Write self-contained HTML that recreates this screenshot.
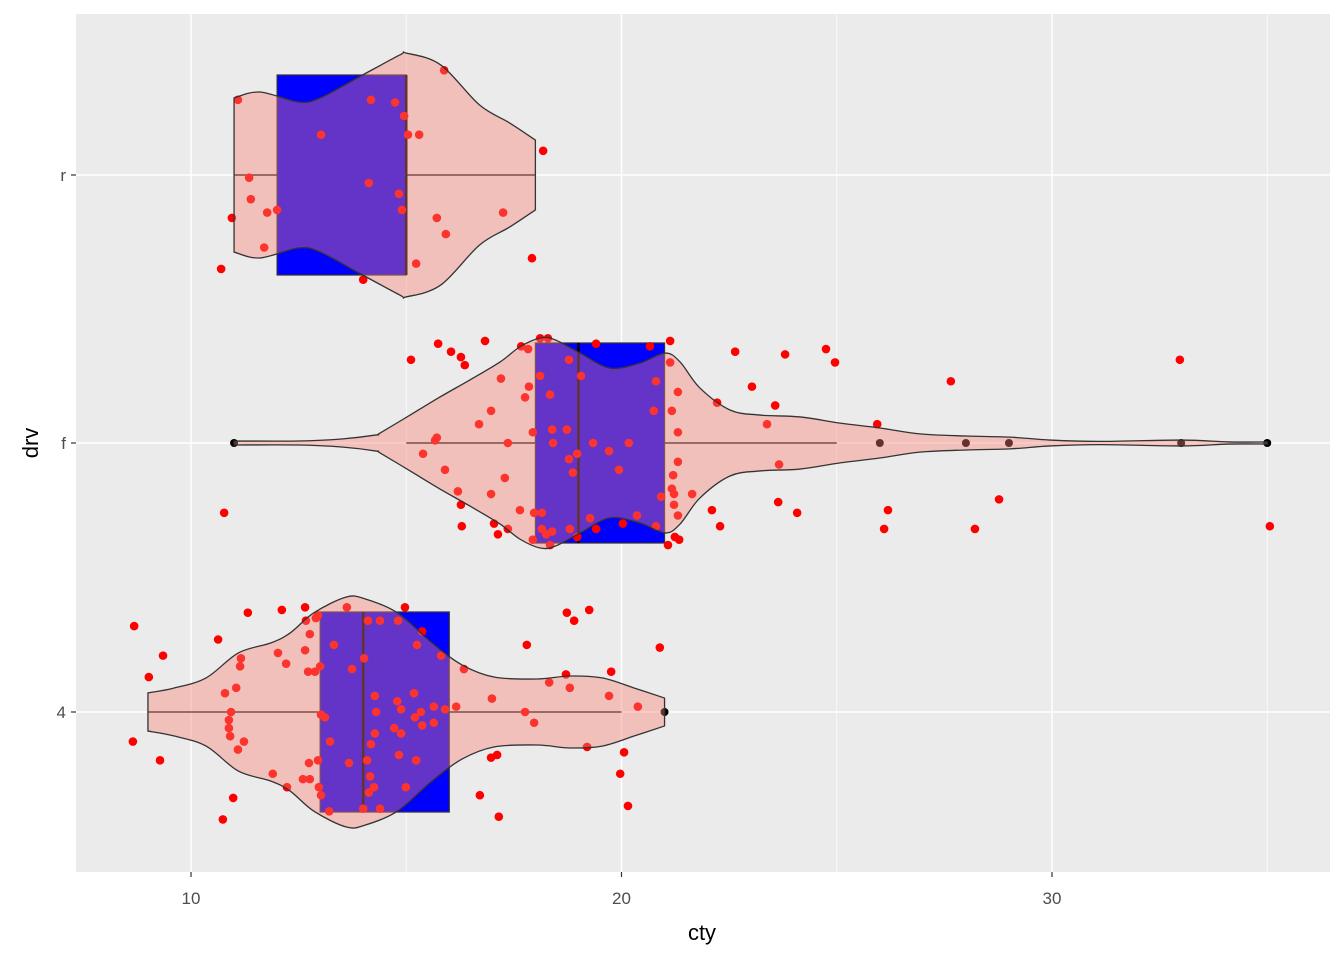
<!DOCTYPE html>
<html><head><meta charset="utf-8"><style>
body{margin:0;background:#fff;}
svg text{font-family:"Liberation Sans",sans-serif;}
</style></head><body>
<svg id="chart" width="1344" height="960" xmlns="http://www.w3.org/2000/svg">
<rect x="76" y="14" width="1254" height="858" fill="#EBEBEB"/>
<g id="grid"></g>
<g id="boxes"></g>
<g id="points"></g>
<g id="violins"></g>
<g id="axes"></g>
<text x="702" y="940" font-size="22" text-anchor="middle" fill="#000">cty</text>
<text transform="translate(38,443) rotate(-90)" font-size="22" text-anchor="middle" fill="#000">drv</text>
</svg>
<script>
const categories = ["4","f","r"];
const xTicks = [10,20,30];
const xMinor = [15,25,35];
// boxplot stats [4, f, r]
const q1 = [13,18,12];
const med = [14,19,15];
const q3 = [16,21,15];
const whiskLo = [9,15,11];
const whiskHi = [20,25,18];
const outliers4 = [21];
const outliersF = [11,26,28,29,33,35];
const outliersR = [];
// violin densities (half widths in drv units)
const vR_cty = [11,11.6,12.5,13,13.9,14.85,15,15.8,16.7,17.4,18];
const vR_w = [.287,.309,.272,.287,.365,.447,.454,.410,.261,.194,.130];
const vF_cty = [11,12.5,13.5,14.3,14.39,15.09,15.78,16.48,17.18,17.64,18.11,18.46,19.04,19.73,20.43,21.01,21.36,21.82,22.52,23.22,24.15,25.08,26,26.93,28,29.02,29.95,31.1,33,34.1,35];
const vF_w = [.0075,.0075,.015,.03,.037,.104,.171,.235,.302,.358,.391,.384,.335,.279,.298,.335,.302,.205,.123,.104,.097,.074,.056,.034,.026,.022,.011,.006,.011,.004,.004];
const v4_cty = [9,9.6,10.35,11.1,11.85,12.3,12.85,13.6,14.05,14.8,15.6,16.3,17.05,18.05,18.8,19.55,20.3,21];
const v4_w = [.071,.089,.127,.220,.257,.294,.369,.428,.421,.369,.257,.175,.130,.123,.134,.127,.089,.052];
// jittered points
const pR_cty = [15.88,18.18,11.09,14.18,14.74,14.95,13.02,15.04,15.30,11.35,14.13,14.83,11.39,14.90,12.00,11.77,10.95,15.71,17.25,15.92,11.70,10.70,15.23,17.92,14.00];
const pR_j = [.39,.09,.28,.28,.27,.22,.15,.15,.15,-.01,-.03,-.07,-.09,-.13,-.13,-.14,-.16,-.16,-.14,-.22,-.27,-.35,-.33,-.31,-.39];
const pF_cty = [15.11,15.74,16.04,16.27,16.36,16.83,17.67,17.83,18.11,18.29,19.41,20.66,21.13,22.64,23.03,18.78,18.11,19.06,17.20,17.85,17.76,18.34,21.13,20.80,21.31,22.22,16.97,16.69,20.75,21.17,17.94,18.39,18.73,21.31,15.71,15.67,17.36,18.41,19.34,20.17,19.71,18.97,15.39,18.78,21.31,15.90,18.87,19.94,21.20,17.29,21.17,21.64,16.20,16.97,21.22,20.92,16.27,21.22,22.10,17.64,17.97,18.15,21.31,20.36,19.27,22.29,16.29,17.04,17.36,20.03,20.80,18.15,18.39,18.80,19.41,17.13,18.25,21.24,21.34,18.97,17.94,21.08,18.34,23.80,24.75,24.96,23.57,23.38,23.66,23.64,24.08,25.94,26.19,26.10,27.65,28.21,28.77,32.97,35.06,10.77];
const pF_j = [.31,.37,.34,.32,.29,.38,.36,.35,.39,.39,.37,.36,.38,.34,.21,.31,.25,.25,.24,.21,.17,.18,.30,.23,.19,.15,.12,.07,.12,.12,.04,.05,.05,.04,.02,.01,0,0,0,0,-.03,-.04,-.04,-.06,-.07,-.10,-.11,-.10,-.12,-.13,-.17,-.19,-.18,-.19,-.19,-.20,-.23,-.23,-.25,-.25,-.26,-.26,-.27,-.27,-.28,-.31,-.31,-.30,-.32,-.30,-.31,-.32,-.33,-.32,-.32,-.34,-.34,-.35,-.36,-.35,-.36,-.38,-.38,.33,.35,.30,.14,.07,-.08,-.22,-.26,.07,-.25,-.32,.23,-.32,-.21,.31,-.31,-.26];
const p4_cty = [8.68,11.32,12.11,12.65,13.62,14.97,10.63,9.35,9.02,12.67,12.90,12.95,14.11,14.39,14.81,15.37,18.73,19.25,18.90,17.80,20.89,12.76,13.32,15.25,12.02,12.21,12.65,11.16,11.14,14.02,15.81,16.34,13.74,12.72,12.88,13.00,18.71,19.76,18.32,18.80,10.79,11.05,14.27,14.79,15.18,16.99,19.71,20.38,10.93,13.02,13.11,14.30,14.88,15.34,15.20,15.64,15.90,16.16,17.76,17.97,10.88,10.88,10.91,15.37,15.64,14.72,14.88,14.27,8.65,11.23,11.09,13.23,14.18,19.20,20.06,9.28,12.74,12.95,13.67,14.09,14.83,15.23,16.97,17.11,19.97,11.90,12.23,12.60,12.76,14.16,12.97,13.02,14.25,14.13,14.99,16.71,10.98,20.15,10.74,13.21,14.00,14.39,17.15];
const p4_j = [.32,.37,.38,.39,.39,.39,.27,.21,.13,.34,.35,.36,.34,.34,.34,.30,.37,.38,.34,.25,.24,.29,.25,.25,.22,.18,.23,.20,.17,.20,.21,.16,.16,.15,.15,.17,.14,.15,.11,.09,.07,.09,.06,.04,.07,.05,.06,.02,0,-.01,-.02,0,.01,0,-.02,.02,.01,.02,0,-.04,-.03,-.06,-.09,-.05,-.04,-.06,-.08,-.08,-.11,-.11,-.14,-.11,-.12,-.13,-.15,-.18,-.19,-.18,-.19,-.18,-.16,-.18,-.17,-.16,-.23,-.23,-.28,-.25,-.25,-.24,-.28,-.31,-.28,-.30,-.28,-.31,-.32,-.35,-.40,-.37,-.36,-.36,-.39];

const NS = "http://www.w3.org/2000/svg";
const X = v => 191 + (v - 10) * 43.05;
const Y = (cat, j) => [712, 443, 175][cat] - j * 268.5;
function mk(parent, tag, attrs) {
  const e = document.createElementNS(NS, tag);
  for (const k in attrs) e.setAttribute(k, attrs[k]);
  parent.appendChild(e);
  return e;
}
const grid = document.getElementById('grid');
xMinor.forEach(v => {
  const l = mk(grid, 'line', {x1: X(v), x2: X(v), y1: 14, y2: 872, stroke: '#fff', 'stroke-width': 0.7});
  
  
});
xTicks.forEach(v => {
  const l = mk(grid, 'line', {x1: X(v), x2: X(v), y1: 14, y2: 872, stroke: '#fff', 'stroke-width': 1.4});
  
  
});
categories.forEach((c, i) => {
  const l = mk(grid, 'line', {x1: 76, x2: 1330, y1: Y(i, 0), y2: Y(i, 0), stroke: '#fff', 'stroke-width': 1.4});
  
  
});
// boxplots
const boxes = document.getElementById('boxes');
const outs = [outliers4, outliersF, outliersR];
categories.forEach((c, i) => {
  const cy = Y(i, 0), h = 0.3725 * 268.5;
  const w1 = mk(boxes, 'line', {x1: X(whiskLo[i]), x2: X(q1[i]), y1: cy, y2: cy, stroke: '#000', 'stroke-width': 1.2});
  
  
  const w2 = mk(boxes, 'line', {x1: X(q3[i]), x2: X(whiskHi[i]), y1: cy, y2: cy, stroke: '#000', 'stroke-width': 1.2});
  
  
  const r = mk(boxes, 'rect', {x: X(q1[i]), y: cy - h, width: X(q3[i]) - X(q1[i]), height: 2 * h, fill: '#0000FF', stroke: '#333', 'stroke-width': 1.2});
  
  
  const m = mk(boxes, 'line', {x1: X(med[i]), x2: X(med[i]), y1: cy - h, y2: cy + h, stroke: '#000', 'stroke-width': 2.5});
  
  
  outs[i].forEach(v => {
    const o = mk(boxes, 'circle', {cx: X(v), cy: cy, r: 4, fill: '#000'});
    
    
  });
});
// points
const pts = document.getElementById('points');
[[p4_cty, p4_j], [pF_cty, pF_j], [pR_cty, pR_j]].forEach((p, i) => {
  p[0].forEach((v, k) => {
    const c = mk(pts, 'circle', {cx: X(v), cy: Y(i, p[1][k]), r: 4.3, fill: '#FF0000'});
    
    
  });
});
// violins
function smooth(ps) {
  let d = '';
  for (let i = 0; i < ps.length - 1; i++) {
    const p0 = ps[Math.max(0, i - 1)], p1 = ps[i], p2 = ps[i + 1], p3 = ps[Math.min(ps.length - 1, i + 2)];
    const c1 = [p1[0] + (p2[0] - p0[0]) / 6, p1[1] + (p2[1] - p0[1]) / 6];
    const c2 = [p2[0] - (p3[0] - p1[0]) / 6, p2[1] - (p3[1] - p1[1]) / 6];
    d += ` C${c1[0]},${c1[1]} ${c2[0]},${c2[1]} ${p2[0]},${p2[1]}`;
  }
  return d;
}
const vio = document.getElementById('violins');
[[v4_cty, v4_w], [vF_cty, vF_w], [vR_cty, vR_w]].forEach((v, i) => {
  const top = v[0].map((c, k) => [X(c), Y(i, v[1][k])]);
  const bot = v[0].map((c, k) => [X(c), Y(i, -v[1][k])]).reverse();
  const d = `M${top[0][0]},${top[0][1]}` + smooth(top) + ` L${bot[0][0]},${bot[0][1]}` + smooth(bot) + ' Z';
  const p = mk(vio, 'path', {d: d, fill: 'rgb(250,128,114)', 'fill-opacity': 0.4, stroke: '#333', 'stroke-width': 1.3});
  
  
});
// axes
const ax = document.getElementById('axes');
xTicks.forEach(v => {
  const t = mk(ax, 'line', {x1: X(v), x2: X(v), y1: 872, y2: 877, stroke: '#333', 'stroke-width': 1.2});
  
  
  const l = mk(ax, 'text', {x: X(v), y: 904, 'font-size': 17, 'text-anchor': 'middle', fill: '#4D4D4D'});
  l.textContent = v;
  
  
});
categories.forEach((c, i) => {
  const t = mk(ax, 'line', {x1: 71, x2: 76, y1: Y(i, 0), y2: Y(i, 0), stroke: '#333', 'stroke-width': 1.2});
  
  
  const l = mk(ax, 'text', {x: 66, y: Y(i, 0) + 6, 'font-size': 17, 'text-anchor': 'end', fill: '#4D4D4D'});
  l.textContent = c;
  
  
});
</script>
</body></html>
